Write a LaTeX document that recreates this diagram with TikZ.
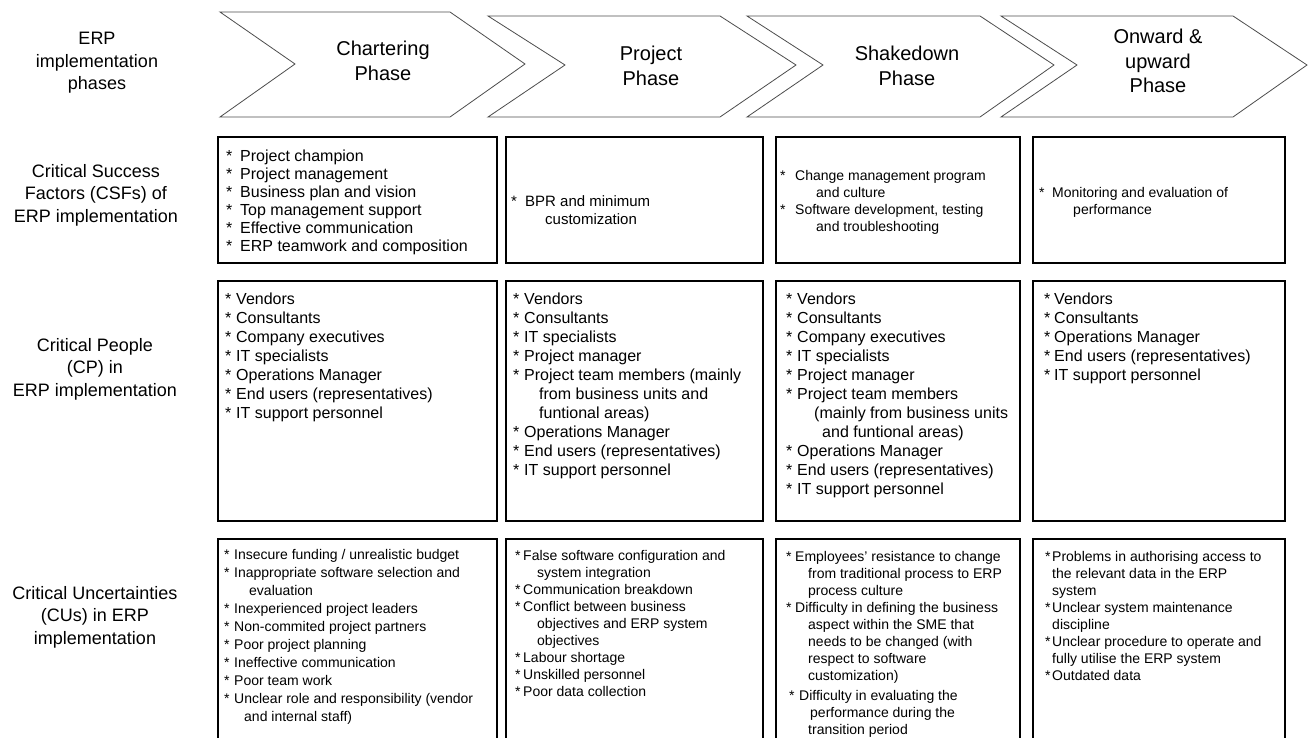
\documentclass[tikz,border=0pt]{standalone}
\usepackage{fontspec}
\setmainfont{Liberation Sans}

% asterisk bullet in a box of given width
\newcommand{\bitem}[1]{\makebox[#1][l]{*}}

\tikzset{
	phase/.style={draw=black!70, line width=0.8pt},
	cell/.style={draw=black, line width=1.2pt},
	rowlabel/.style={align=center, inner sep=0pt, font=\fontsize{18}{22.5}\selectfont},
	phaselabel/.style={align=center, inner sep=0pt, font=\fontsize{20}{24.5}\selectfont},
	bigitems/.style={anchor=north west, align=left, inner sep=0pt, font=\fontsize{16}{19}\selectfont},
	smallitems/.style={anchor=north west, align=left, inner sep=0pt, font=\fontsize{14}{17}\selectfont},
}

\begin{document}
\begin{tikzpicture}[x=1pt, y=-1pt]

	\useasboundingbox (0,0) rectangle (1313,738);
	\clip (0,0) rectangle (1313,738);

	% phase chevrons
	\draw[phase] (220,12) -- (450,12) -- (525,64) -- (450,117) -- (220,117) -- (295,64) -- cycle;
	\draw[phase] (488,16) -- (720,16) -- (796,65) -- (720,117) -- (488,117) -- (565,65) -- cycle;
	\draw[phase] (747,16) -- (980,16) -- (1054,65) -- (980,117) -- (747,117) -- (823,65) -- cycle;
	\draw[phase] (1001,16) -- (1233,16) -- (1307,65) -- (1233,117) -- (1001,117) -- (1077,65) -- cycle;

	\node[phaselabel] (charter) at (383,61) {Chartering\\Phase};
	\node[phaselabel] (project) at (651,66) {Project\\Phase};
	\node[phaselabel] (shake) at (907,66) {Shakedown\\Phase};
	\node[phaselabel] (onward) at (1158,61) {Onward \&\\upward\\Phase};

	% row titles
	\node[rowlabel] (phases) at (97,63) {ERP\\implementation\\phases};
	\node[rowlabel] (csf) at (96,195) {Critical Success\\Factors (CSFs) of\\ERP implementation};
	\node[rowlabel] (cp) at (95,369) {Critical People\\(CP) in\\ERP implementation};
	\node[rowlabel] (cu) at (95,617) {Critical Uncertainties\\(CUs) in ERP\\implementation};

	% boxes
	\draw[cell] (218,137) rectangle (497,263);
	\draw[cell] (506,137) rectangle (763,263);
	\draw[cell] (776,137) rectangle (1020,263);
	\draw[cell] (1033,137) rectangle (1285,263);

	\draw[cell] (218,281) rectangle (497,521);
	\draw[cell] (506,281) rectangle (763,521);
	\draw[cell] (776,281) rectangle (1020,521);
	\draw[cell] (1033,281) rectangle (1285,521);

	\draw[cell] (218,539) rectangle (497,760);
	\draw[cell] (506,539) rectangle (763,760);
	\draw[cell] (776,539) rectangle (1020,760);
	\draw[cell] (1033,539) rectangle (1285,760);

	% success factors
	\node[bigitems, font=\fontsize{16}{18}\selectfont] (csfA) at (226,150) {\bitem{14pt}Project champion\\\bitem{14pt}Project management\\\bitem{14pt}Business plan and vision\\\bitem{14pt}Top management support\\\bitem{14pt}Effective communication\\\bitem{14pt}ERP teamwork and composition};
	\node[bigitems, font=\fontsize{15}{18}\selectfont] (csfB) at (511,195) {\bitem{14pt}BPR and minimum\\\hspace*{34pt}customization};
	\node[smallitems] (csfC) at (780,170) {\bitem{15pt}Change management program\\\hspace*{36pt}and culture\\\bitem{15pt}Software development, testing\\\hspace*{36pt}and troubleshooting};
	\node[smallitems] (csfD) at (1039,187) {\bitem{13pt}Monitoring and evaluation of\\\hspace*{34pt}performance};

	% critical people
	\node[bigitems] (cpA) at (225,293) {\bitem{11pt}Vendors\\\bitem{11pt}Consultants\\\bitem{11pt}Company executives\\\bitem{11pt}IT specialists\\\bitem{11pt}Operations Manager\\\bitem{11pt}End users (representatives)\\\bitem{11pt}IT support personnel};
	\node[bigitems] (cpB) at (513,293) {\bitem{11pt}Vendors\\\bitem{11pt}Consultants\\\bitem{11pt}IT specialists\\\bitem{11pt}Project manager\\\bitem{11pt}Project team members (mainly\\\hspace*{26pt}from business units and\\\hspace*{26pt}funtional areas)\\\bitem{11pt}Operations Manager\\\bitem{11pt}End users (representatives)\\\bitem{11pt}IT support personnel};
	\node[bigitems] (cpC) at (786,293) {\bitem{11pt}Vendors\\\bitem{11pt}Consultants\\\bitem{11pt}Company executives\\\bitem{11pt}IT specialists\\\bitem{11pt}Project manager\\\bitem{11pt}Project team members\\\hspace*{28pt}(mainly from business units\\\hspace*{36pt}and funtional areas)\\\bitem{11pt}Operations Manager\\\bitem{11pt}End users (representatives)\\\bitem{11pt}IT support personnel};
	\node[bigitems] (cpD) at (1044,293) {\bitem{10pt}Vendors\\\bitem{10pt}Consultants\\\bitem{10pt}Operations Manager\\\bitem{10pt}End users (representatives)\\\bitem{10pt}IT support personnel};

	% critical uncertainties
	\node[smallitems, font=\fontsize{14}{18}\selectfont] (cuA) at (224,549) {\bitem{10pt}Insecure funding / unrealistic budget\\\bitem{10pt}Inappropriate software selection and\\\hspace*{25pt}evaluation\\\bitem{10pt}Inexperienced project leaders\\\bitem{10pt}Non-commited project partners\\\bitem{10pt}Poor project planning\\\bitem{10pt}Ineffective communication\\\bitem{10pt}Poor team work\\\bitem{10pt}Unclear role and responsibility (vendor\\\hspace*{20pt}and internal staff)};
	\node[smallitems] (cuB) at (515,550) {\bitem{8pt}False software configuration and\\\hspace*{22pt}system integration\\\bitem{8pt}Communication breakdown\\\bitem{8pt}Conflict between business\\\hspace*{22pt}objectives and ERP system\\\hspace*{22pt}objectives\\\bitem{8pt}Labour shortage\\\bitem{8pt}Unskilled personnel\\\bitem{8pt}Poor data collection};
	\node[smallitems] (cuC) at (786,551) {\bitem{9pt}Employees' resistance to change\\\hspace*{22pt}from traditional process to ERP\\\hspace*{22pt}process culture\\\bitem{9pt}Difficulty in defining the business\\\hspace*{22pt}aspect within the SME that\\\hspace*{22pt}needs to be changed (with\\\hspace*{22pt}respect to software\\\hspace*{22pt}customization)\\[3pt]\hspace*{3pt}\bitem{10pt}Difficulty in evaluating the\\\hspace*{24pt}performance during the\\\hspace*{22pt}transition period};
	\node[smallitems] (cuD) at (1045,551) {\bitem{7pt}Problems in authorising access to\\\hspace*{7pt}the relevant data in the ERP\\\hspace*{7pt}system\\\bitem{7pt}Unclear system maintenance\\\hspace*{7pt}discipline\\\bitem{7pt}Unclear procedure to operate and\\\hspace*{7pt}fully utilise the ERP system\\\bitem{7pt}Outdated data};

\end{tikzpicture}
\end{document}
